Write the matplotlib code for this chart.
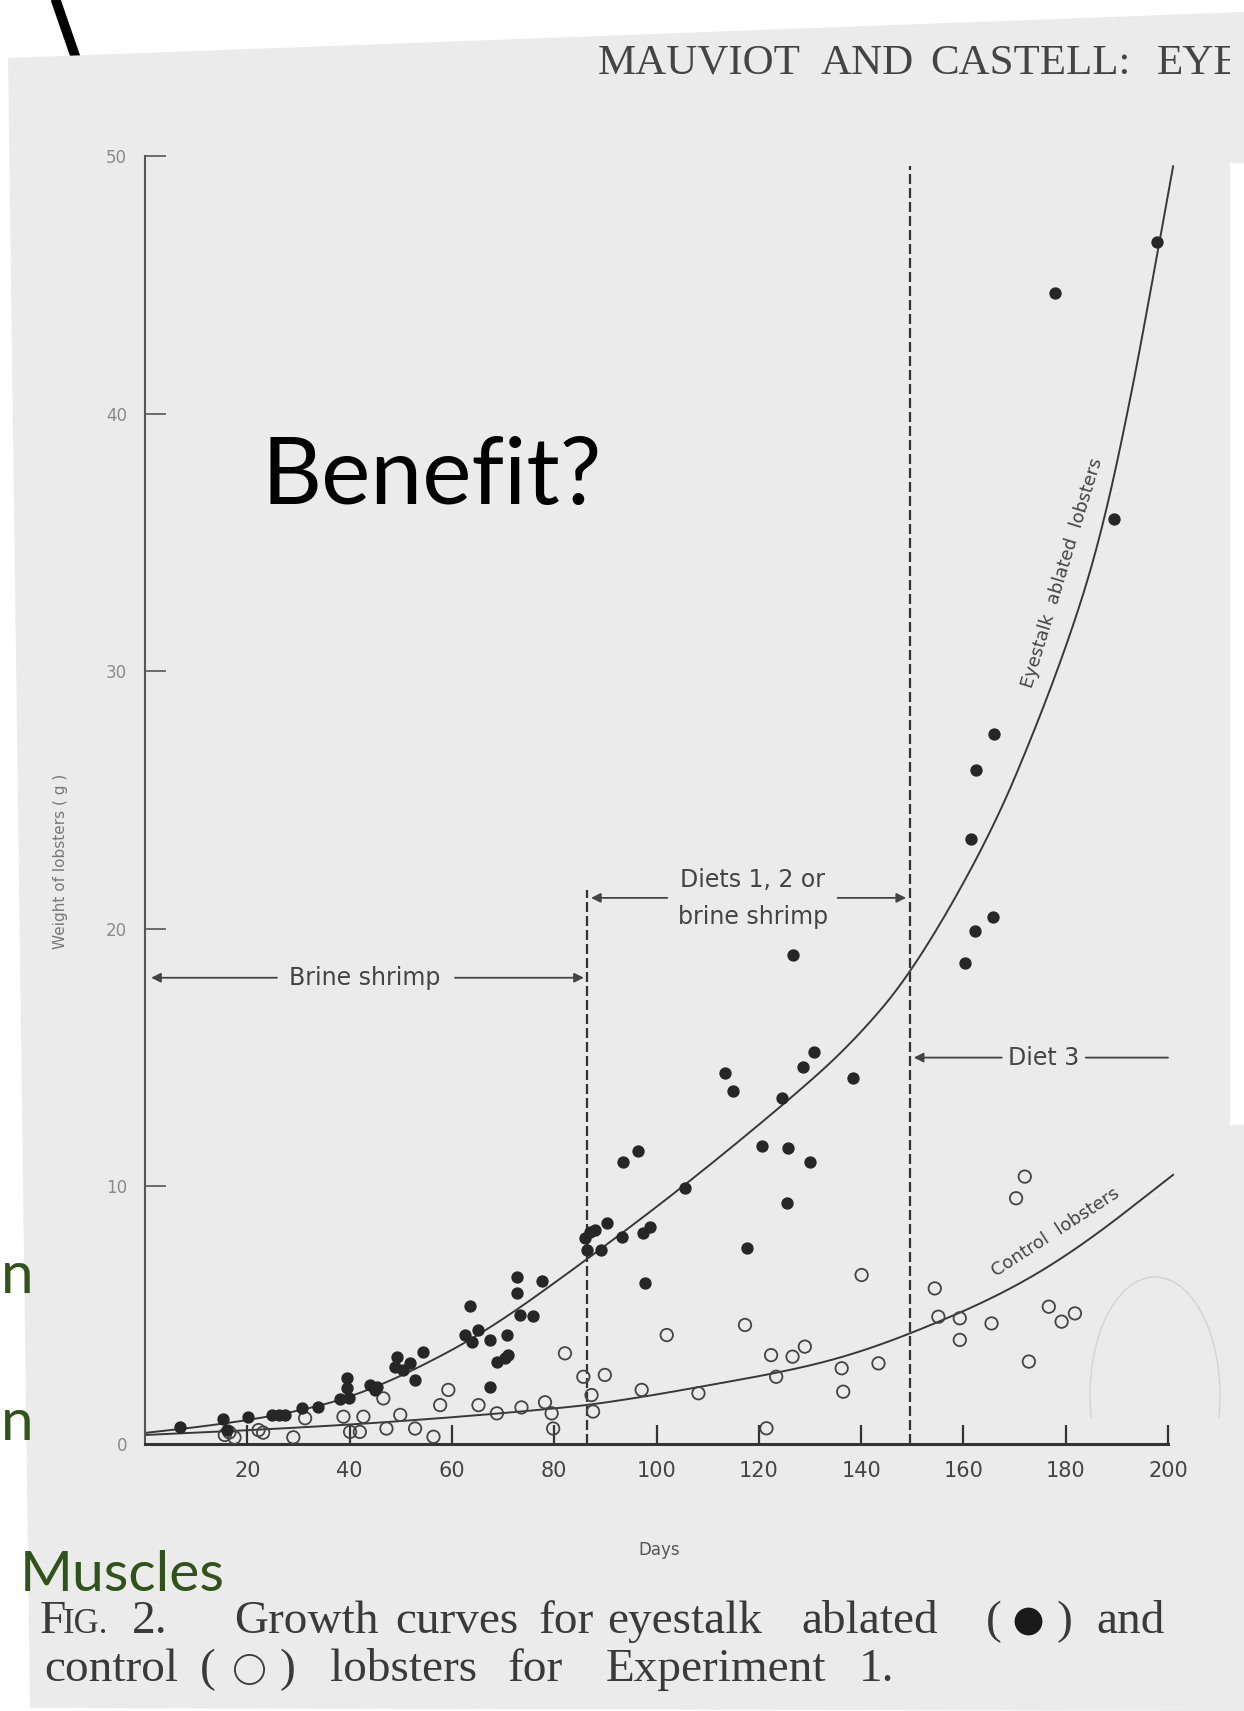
import numpy as np
import matplotlib.pyplot as plt
from matplotlib.lines import Line2D
from matplotlib.patches import Polygon, Rectangle, Arc

# eyestalk ablated lobsters (filled dots): day, weight (g)
ablated_days = [6.8, 15.3, 16.0, 20.2, 24.8, 26.1, 27.4, 30.6, 33.9, 38.1, 39.4, 39.8, 39.4,
                44.0, 45.3, 44.9, 49.2, 48.8, 50.5, 51.8, 52.8, 54.4, 63.5, 62.6, 63.9, 65.2,
                67.4, 70.7, 68.8, 70.4, 71.0, 67.4, 72.7, 72.7, 73.3, 75.9, 77.6,
                86.0, 87.0, 88.0, 90.3, 86.4, 89.2, 93.2, 97.4, 98.7, 93.5, 96.4, 97.7,
                105.6, 113.4, 115.0, 117.6, 120.6, 124.5, 125.8, 130.0, 125.5, 128.7, 130.7,
                138.5, 126.7, 160.3, 162.2, 165.8, 161.4, 162.4, 166.0, 189.4, 177.9, 197.9]
ablated_wt = [0.65, 0.96, 0.54, 1.06, 1.13, 1.13, 1.13, 1.39, 1.45, 1.73, 2.55, 1.77, 2.16,
              2.29, 2.23, 2.11, 3.39, 3.0, 2.87, 3.13, 2.48, 3.58, 5.36, 4.23, 3.97, 4.43,
              4.05, 4.23, 3.2, 3.32, 3.45, 2.22, 6.5, 5.85, 5.0, 4.98, 6.34,
              7.98, 8.24, 8.3, 8.57, 7.53, 7.53, 8.05, 8.18, 8.44, 10.96, 11.39, 6.24,
              9.93, 14.39, 13.72, 7.6, 11.58, 13.42, 11.48, 10.96, 9.37, 14.65, 15.23,
              14.2, 19.0, 18.69, 19.91, 20.47, 23.5, 26.16, 27.55, 35.9, 44.7, 46.67]

# control lobsters (open circles)
control_days = [15.6, 16.5, 17.5, 22.2, 23.1, 29.0, 31.3, 38.8, 40.1, 42.7, 42.0, 46.6, 47.2,
                49.9, 52.8, 56.4, 57.7, 59.3, 65.2, 68.8, 73.6, 78.2, 79.5, 79.8, 82.1, 85.7,
                87.3, 87.6, 89.9, 97.1, 102.0, 108.2, 117.3, 121.5, 122.4, 123.4, 126.6, 129.0,
                136.2, 136.5, 140.1, 143.4, 154.4, 155.1, 159.3, 159.3, 165.5, 170.3, 172.0,
                172.8, 176.7, 179.2, 181.8]
control_wt = [0.35, 0.45, 0.25, 0.54, 0.44, 0.26, 1.0, 1.06, 0.47, 1.06, 0.47, 1.77, 0.6,
              1.13, 0.6, 0.28, 1.51, 2.1, 1.51, 1.19, 1.42, 1.62, 1.19, 0.6, 3.52, 2.61,
              1.9, 1.26, 2.68, 2.1, 4.23, 1.97, 4.62, 0.61, 3.45, 2.61, 3.39, 3.78,
              2.94, 2.03, 6.56, 3.13, 6.04, 4.94, 4.88, 4.04, 4.68, 9.54, 10.38,
              3.2, 5.33, 4.75, 5.07]

# points
ablated_curve_days = [0, 10, 20, 30, 40, 52, 67, 86, 105, 125, 138, 150, 165, 175, 183, 188, 193, 197, 201]
ablated_curve_wt = [0.43, 0.65, 0.92, 1.28, 1.8, 2.8, 4.4, 7.1, 9.95, 13.2, 15.5, 18.3, 23.5, 28.2,
                    32.6, 36.2, 40.9, 45.2, 49.6]
control_curve_days = [0, 20, 40, 55, 69, 80, 87, 98, 108, 125, 137, 150, 168, 183, 201]
control_curve_wt = [0.35, 0.53, 0.75, 0.96, 1.18, 1.38, 1.52, 1.85, 2.2, 2.81, 3.39, 4.3, 5.85,
                    7.66, 10.45]

diet_change_days = [86.5, 149.6]
diet_line_tops = [21.5, 49.6]
xticks = [20, 40, 60, 80, 100, 120, 140, 160, 180, 200]
yticks = [0, 10, 20, 30, 40, 50]

W, H = 1244, 1711
narrow = ['Liberation Sans Narrow', 'DejaVu Sans']
serif = ['Liberation Serif', 'DejaVu Serif']
slide = ['Lato', 'DejaVu Sans']


def fp(x, y):
    # page pixel -> figure fraction
    return x / W, 1 - y / H


def rounded(days, wt, passes=5):
    # corner-cutting so the hand-drawn curve has no kinks at the read points
    pts = np.column_stack([days, wt]).astype(float)
    for _ in range(passes):
        q = 0.75 * pts[:-1] + 0.25 * pts[1:]
        r = 0.25 * pts[:-1] + 0.75 * pts[1:]
        mid = np.empty((2 * len(q), 2))
        mid[0::2] = q
        mid[1::2] = r
        pts = np.vstack([pts[:1], mid, pts[-1:]])
    return pts[:, 0], pts[:, 1]


fig = plt.figure(figsize=(W / 100, H / 100), dpi=100)
fig.patch.set_facecolor('white')

# slide decoration behind the scan
fig.add_artist(Line2D([54 / W, 80 / W], [1 + 5 / H, 1 - 70 / H], color='black', lw=7,
                      solid_capstyle='butt', zorder=-3))
fig.add_artist(Polygon([fp(8, 58), fp(1244, 12), fp(1244, 1711), fp(30, 1708)], closed=True,
                       facecolor='#ebebeb', edgecolor='none', zorder=-2))
fig.add_artist(Rectangle(fp(1230, 1125), 14 / W, (1125 - 163) / H, facecolor='white',
                         edgecolor='none', zorder=-1))
fig.add_artist(Arc(fp(1155, 1395), 130 / W, 236 / H, theta1=-15, theta2=195,
                   color='#d4d4d4', lw=1, zorder=-1))

ax = fig.add_axes([145 / W, 1 - 1444 / H, 1023 / W, 1288 / H])
ax.patch.set_visible(False)
ax.set_xlim(0, 200)
ax.set_ylim(0, 50)

ink = '#262626'
for d, top in zip(diet_change_days, diet_line_tops):
    ax.plot([d, d], [0, top], color='#333333', lw=1.6, dashes=(4.5, 1.8), clip_on=False)

for days, wt in [(ablated_curve_days, ablated_curve_wt), (control_curve_days, control_curve_wt)]:
    xs, ys = rounded(days, wt)
    ax.plot(xs, ys, color='#383838', lw=1.4, clip_on=False)

ax.scatter(control_days, control_wt, s=80, facecolors='none', edgecolors='#444444',
           linewidths=1.3, zorder=3, clip_on=False)
ax.scatter(ablated_days, ablated_wt, s=62, color=ink, zorder=4, clip_on=False)

# diet period arrows
arrow = dict(arrowstyle='-|>', color='#444444', lw=1.3, mutation_scale=14, shrinkA=0, shrinkB=0)
line = dict(arrowstyle='-', color='#444444', lw=1.3, shrinkA=0, shrinkB=0)
lab = dict(fontsize=17, color='#444444', family='DejaVu Sans', va='center', ha='center')

ax.annotate('', xy=(1.2, 18.1), xytext=(25.8, 18.1), arrowprops=arrow, annotation_clip=False)
ax.annotate('', xy=(85.8, 18.1), xytext=(60.6, 18.1), arrowprops=arrow)
ax.text(43.0, 18.1, 'Brine shrimp', **lab)

ax.annotate('', xy=(87.2, 21.2), xytext=(102.1, 21.2), arrowprops=arrow)
ax.annotate('', xy=(148.8, 21.2), xytext=(135.4, 21.2), arrowprops=arrow)
ax.text(118.8, 21.9, 'Diets 1, 2 or', **lab)
ax.text(118.8, 20.45, 'brine shrimp', **lab)

ax.annotate('', xy=(150.3, 15.0), xytext=(167.5, 15.0), arrowprops=arrow)
ax.annotate('', xy=(200.0, 15.0), xytext=(183.9, 15.0), arrowprops=line)
ax.text(175.6, 15.0, 'Diet 3', **lab)

ax.text(179.3, 33.8, 'Eyestalk  ablated  lobsters', fontsize=13, color='#444444',
        family='DejaVu Sans', rotation=73, ha='center', va='center', rotation_mode='anchor')
ax.text(178.0, 8.2, 'Control  lobsters', fontsize=13, color='#444444',
        family='DejaVu Sans', rotation=33, ha='center', va='center', rotation_mode='anchor')

# axes styling
for side in ['top', 'right']:
    ax.spines[side].set_visible(False)
ax.spines['left'].set_color('#555555')
ax.spines['left'].set_linewidth(1.5)
ax.spines['bottom'].set_color('#333333')
ax.spines['bottom'].set_linewidth(2.2)

ax.set_xticks(xticks)
ax.set_yticks(yticks)
ax.tick_params(axis='x', direction='in', length=14, width=1.6, color='#333333', pad=12,
               labelsize=15, labelcolor='#444444')
ax.tick_params(axis='y', direction='in', length=15, width=1.2, color='#555555', pad=13,
               labelsize=12, labelcolor='#8a8a8a')
for t in ax.get_xticklabels() + ax.get_yticklabels():
    t.set_family(narrow)

ax.set_xlabel('Days', fontsize=12, color='#555555', family=narrow)
ax.xaxis.set_label_coords(0.503, -0.075)
ax.set_ylabel('Weight of lobsters ( g )', fontsize=11, color='#777777', family=narrow)
ax.yaxis.set_label_coords(-0.075, 0.452)

# running head of the journal page, cut by the scan's edge
page_clip = Rectangle((0, 0), 1230 / W, 1, transform=fig.transFigure)
for word, x in [('MAUVIOT', 598), ('AND', 821), ('CASTELL:', 930), ('EYESTALK', 1157)]:
    t = fig.text(*fp(x, 74), word, fontsize=31, color='#444444', family=serif, va='baseline')
    t.set_clip_path(page_clip)
    t.set_clip_on(True)

# figure caption, words set at their centres
cap = dict(fontsize=34, color='#3a3a3a', family=serif, va='baseline', ha='center')
fig.text(*fp(40, 1633), 'F', fontsize=34, color='#3a3a3a', family=serif, va='baseline')
fig.text(*fp(63, 1633), 'IG.', fontsize=25, color='#3a3a3a', family=serif, va='baseline')
for word, x in [('2.', 150), ('Growth', 306), ('curves', 457), ('for', 566), ('eyestalk', 685),
                ('ablated', 870), ('(', 994), (')', 1064), ('and', 1131)]:
    fig.text(*fp(x, 1633), word, **cap)
for word, x in [('control', 111), ('(', 208), (')', 287), ('lobsters', 404), ('for', 535),
                ('Experiment', 716), ('1.', 877)]:
    fig.text(*fp(x, 1681), word, **cap)
fig.add_artist(Line2D([1028 / W], [1 - 1621 / H], marker='o', ms=19, color='#1a1a1a', lw=0))
fig.add_artist(Line2D([249 / W], [1 - 1669 / H], marker='o', ms=21, mfc='none', mec='#3a3a3a',
                      mew=1.3, lw=0))

# slide text laid over the figure
fig.text(*fp(262, 504), 'Benefit?', fontsize=67, color='black', family=slide, va='baseline')
green = '#2f5419'
fig.text(*fp(20, 1591), 'Muscles', fontsize=41, color=green, family=slide, va='baseline')
fig.text(*fp(1, 1293), 'n', fontsize=42, color=green, family=slide, va='baseline')
fig.text(*fp(1, 1440), 'n', fontsize=42, color=green, family=slide, va='baseline')

fig.savefig('out.png', dpi=100, facecolor=fig.get_facecolor())
